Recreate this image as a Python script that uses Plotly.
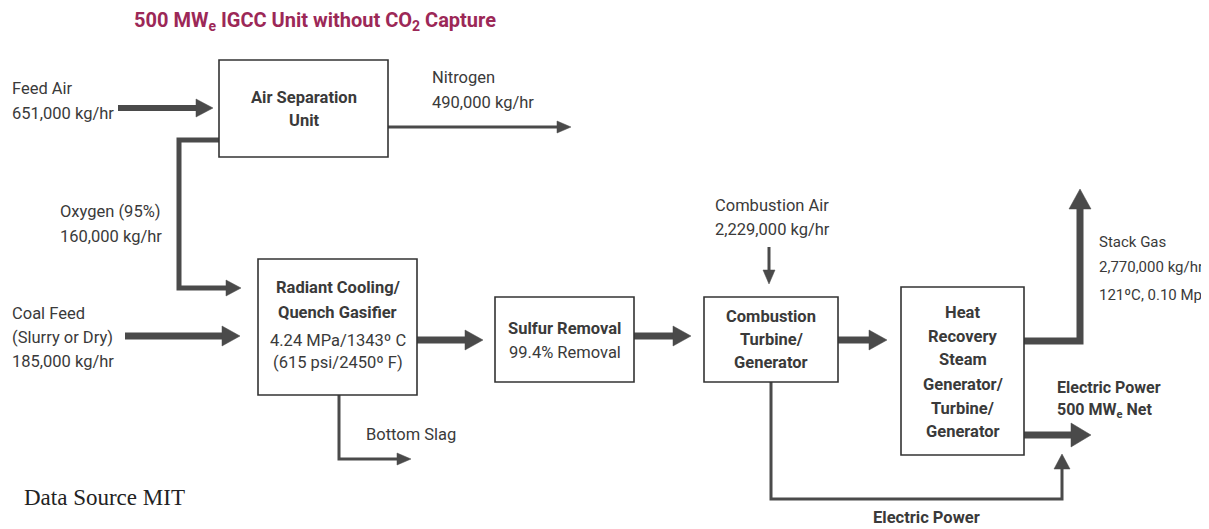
import plotly.graph_objects as go

# ---- content ----
title_text = "500 MW<sub>e</sub> IGCC Unit without CO<sub>2</sub> Capture"
source_text = "Data Source MIT"

box_names = ["asu", "gasifier", "sulfur", "ct", "hrsg"]
box_labels_bold = [
    ["Air Separation", "Unit"],
    ["Radiant Cooling/", "Quench Gasifier"],
    ["Sulfur Removal"],
    ["Combustion", "Turbine/", "Generator"],
    ["Heat", "Recovery", "Steam", "Generator/", "Turbine/", "Generator"],
]
box_labels_plain = [
    [],
    ["4.24 MPa/1343º C", "(615 psi/2450º F)"],
    ["99.4% Removal"],
    [],
    [],
]

stream_labels = {
    "feed_air": ["Feed Air", "651,000 kg/hr"],
    "nitrogen": ["Nitrogen", "490,000 kg/hr"],
    "oxygen": ["Oxygen (95%)", "160,000 kg/hr"],
    "coal": ["Coal Feed", "(Slurry or Dry)", "185,000 kg/hr"],
    "slag": ["Bottom Slag"],
    "comb_air": ["Combustion Air", "2,229,000 kg/hr"],
    "stack": ["Stack Gas", "2,770,000 kg/hr", "121ºC, 0.10 Mps"],
    "power_net": ["Electric Power", "500 MW<sub>e</sub> Net"],
    "power_ct": ["Electric Power"],
}

# ---- layout geometry (pixel space of the drawing) ----
box_geom = {  # x0, y0, x1, y1
    "asu": (219, 60, 388, 157),
    "gasifier": (258, 259, 417, 395),
    "sulfur": (495, 297, 634, 382),
    "ct": (704, 297, 838, 382),
    "hrsg": (901, 287, 1024, 455),
}
box_text_rows = {
    "asu": [97, 120],
    "gasifier": [287, 312, 340, 362],
    "sulfur": [328, 352],
    "ct": [316, 339, 362],
    "hrsg": [312, 336, 359, 384, 408, 431],
}

# polylines: points, shaft width, head length, head half-width
streams = [
    ("feed_air", [(118, 108), (213, 108)], 6, 17, 9),
    ("nitrogen", [(388, 127), (571, 127)], 3, 14, 6),
    ("oxygen", [(219, 140), (179, 140), (179, 288), (241, 288)], 5, 15, 8),
    ("coal", [(125, 336), (240, 336)], 7, 18, 10),
    ("gas1", [(417, 340), (483, 340)], 7, 18, 10),
    ("gas2", [(634, 336), (691, 336)], 7, 18, 10),
    ("gas3", [(838, 340), (887, 340)], 7, 18, 10),
    ("slag", [(339, 395), (339, 459), (411, 459)], 3, 14, 6),
    ("comb_air", [(769, 247), (769, 284)], 3, 14, 6),
    ("stack", [(1024, 341), (1080, 341), (1080, 189)], 7, 20, 11),
    ("power_net", [(1024, 435), (1091, 435)], 7, 20, 12),
    ("power_ct", [(771, 382), (771, 499), (1062, 499), (1062, 454)], 3, 15, 8),
]

label_pos = {  # x, anchor, y rows, font size
    "feed_air": (10, "left", [88, 113], 16.5),
    "nitrogen": (430, "left", [77, 102], 16.5),
    "oxygen": (58, "left", [211, 236], 16.5),
    "coal": (10, "left", [313, 337, 361], 16.5),
    "slag": (364, "left", [434], 16.5),
    "comb_air": (772, "center", [205, 229], 16.5),
    "stack": (1097, "left", [242, 267, 295], 15),
    "power_net": (1055, "left", [387, 410], 16),
    "power_ct": (926, "center", [517], 16.5),
}

LINE = "#4a4a4a"
BOX = "#333333"
TXT = "#3a3a3a"
FONT = "Roboto, 'Open Sans', sans-serif"
FS = 16.5

shapes = []
annotations = []

# boxes
for i, name in enumerate(box_names):
    x0, y0, x1, y1 = box_geom[name]
    shapes.append(dict(type="rect", xref="x", yref="y", x0=x0, y0=y0, x1=x1, y1=y1,
                       line=dict(color=BOX, width=1.6), fillcolor="white", layer="above"))
    rows = box_text_rows[name]
    texts = [(t, True) for t in box_labels_bold[i]] + [(t, False) for t in box_labels_plain[i]]
    cx = (x0 + x1) / 2
    for (t, bold), yy in zip(texts, rows):
        annotations.append(dict(x=cx, y=yy, xref="x", yref="y", showarrow=False,
                                text=f"<b>{t}</b>" if bold else t, xanchor="center",
                                yanchor="middle",
                                font=dict(family=FONT, size=FS, color=TXT)))

# streams
for name, pts, w, hl, hw in streams:
    (xa, ya), (xb, yb) = pts[-2], pts[-1]
    dx, dy = xb - xa, yb - ya
    L = (dx ** 2 + dy ** 2) ** 0.5
    ux, uy = dx / L, dy / L
    bx, by = xb - ux * hl, yb - uy * hl
    shaft = pts[:-1] + [(bx + ux * 1, by + uy * 1)]
    path = "M " + " L ".join(f"{px},{py}" for px, py in shaft)
    shapes.append(dict(type="path", xref="x", yref="y", path=path,
                       line=dict(color=LINE, width=w), layer="below"))
    px_, py_ = -uy, ux
    tri = (f"M {xb},{yb} L {bx + px_ * hw},{by + py_ * hw} "
           f"L {bx - px_ * hw},{by - py_ * hw} Z")
    shapes.append(dict(type="path", xref="x", yref="y", path=tri,
                       line=dict(color=LINE, width=0.5), fillcolor=LINE, layer="below"))

# stream labels
bold_streams = {"power_net", "power_ct"}
for key, rows_txt in stream_labels.items():
    x, anchor, ys, fs = label_pos[key]
    for t, yy in zip(rows_txt, ys):
        annotations.append(dict(x=x, y=yy, xref="x", yref="y", showarrow=False,
                                text=f"<b>{t}</b>" if key in bold_streams else t,
                                xanchor=anchor, yanchor="middle",
                                font=dict(family=FONT, size=fs, color=TXT)))

# title & source
annotations.append(dict(x=132, y=21, xref="x", yref="y", showarrow=False, text=f"<b>{title_text}</b>",
                        xanchor="left", yanchor="middle",
                        font=dict(family=FONT, size=20, color="#9c2857")))
annotations.append(dict(x=22, y=497, xref="x", yref="y", showarrow=False, text=source_text,
                        xanchor="left", yanchor="middle",
                        font=dict(family="'Liberation Serif', 'DejaVu Serif', serif", size=23, color="#222222")))

# The page body has an 8px margin; offset the axis ranges so drawing pixels match the screen.
OFF = 8
W, H = 1209, 529
fig = go.Figure()
fig.add_trace(go.Scatter(x=[OFF, W], y=[OFF, H], mode="markers",
                         marker=dict(opacity=0), hoverinfo="skip", showlegend=False))
fig.update_layout(
    width=W - OFF, height=H - OFF,
    margin=dict(l=0, r=0, t=0, b=0),
    paper_bgcolor="white", plot_bgcolor="white",
    shapes=shapes, annotations=annotations,
    xaxis=dict(range=[OFF, W], visible=False, fixedrange=True),
    yaxis=dict(range=[H, OFF], visible=False, fixedrange=True),
    showlegend=False,
)
fig.write_html("out.html")
